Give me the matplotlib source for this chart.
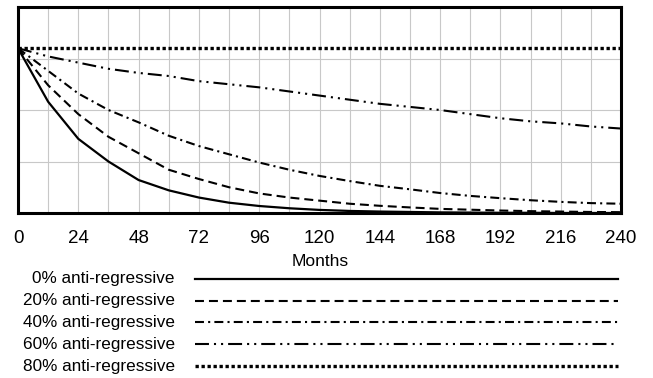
import matplotlib
matplotlib.use("Agg")
import matplotlib.pyplot as plt
from matplotlib.lines import Line2D

plt.rcParams['font.family'] = ['Liberation Sans', 'DejaVu Sans']

# data
months = [0, 12, 24, 36, 48, 60, 72, 84, 96, 108, 120,
          132, 144, 156, 168, 180, 192, 204, 216, 228, 240]
ar0 = [0.80, 0.54, 0.36, 0.25, 0.16, 0.11, 0.075, 0.05, 0.034, 0.023, 0.015,
       0.01, 0.007, 0.005, 0.003, 0.002, 0.001, 0.001, 0.0, 0.0, 0.0]
ar20 = [0.80, 0.62, 0.48, 0.37, 0.29, 0.21, 0.165, 0.125, 0.095, 0.075, 0.06,
        0.045, 0.035, 0.027, 0.02, 0.016, 0.012, 0.009, 0.007, 0.005, 0.004]
ar40 = [0.80, 0.69, 0.58, 0.50, 0.44, 0.375, 0.325, 0.285, 0.245, 0.21, 0.18,
        0.155, 0.132, 0.115, 0.097, 0.083, 0.072, 0.062, 0.054, 0.048, 0.045]
ar60 = [0.80, 0.76, 0.73, 0.70, 0.68, 0.665, 0.64, 0.625, 0.61, 0.59, 0.57,
        0.55, 0.53, 0.515, 0.50, 0.48, 0.46, 0.445, 0.435, 0.42, 0.41]
ar80 = [0.80, 0.80, 0.80, 0.80, 0.80, 0.80, 0.80, 0.80, 0.80, 0.80, 0.80,
        0.80, 0.80, 0.80, 0.80, 0.80, 0.80, 0.80, 0.80, 0.80, 0.80]
labels = ['0% anti-regressive', '20% anti-regressive', '40% anti-regressive',
          '60% anti-regressive', '80% anti-regressive']
xticks = [0, 24, 48, 72, 96, 120, 144, 168, 192, 216, 240]

styles = [
    dict(linestyle='-', lw=1.6),
    dict(linestyle=(0, (4.3, 2.4)), lw=1.5),
    dict(linestyle=(0, (4.3, 2, 1, 2)), lw=1.5),
    dict(linestyle=(0, (6.7, 2.4, 1, 2.4, 1, 2.4)), lw=1.5),
    dict(linestyle=(0, (1, 0.8)), lw=2.4, dash_capstyle='butt'),
]

fig = plt.figure(figsize=(6.53, 3.78), dpi=100)
ax = fig.add_axes([18/653, 1-213/378, (621-18)/653, (213-7)/378])

for ys, st in zip([ar0, ar20, ar40, ar60, ar80], styles):
    ax.plot(months, ys, color='black', **st)

ax.set_xlim(0, 240)
ax.set_ylim(0, 1)
ax.set_xticks(range(0, 241, 12))
ax.set_xticklabels([str(m) if m in xticks else '' for m in range(0, 241, 12)],
                   fontsize=13.5)
ax.set_yticks([0.25, 0.5, 0.75])
ax.set_yticklabels([])
ax.tick_params(length=0, pad=12.5)
ax.grid(True, color='#c8c8c8', lw=0.8)
ax.set_axisbelow(True)
for sp in ax.spines.values():
    sp.set_linewidth(2.2)

fig.text(320/653, 1-261/378, 'Months', ha='center', va='center', fontsize=12.5)

rows = [279, 301, 322, 344, 366]
for lab, st, yp in zip(labels, styles, rows):
    yf = 1 - yp/378
    fig.text(175/653, yf, lab, ha='right', va='center', fontsize=12.3)
    fig.add_artist(Line2D([195/653, 618/653], [yf, yf], color='black',
                          transform=fig.transFigure, **st))

fig.savefig('out.png', dpi=100)
